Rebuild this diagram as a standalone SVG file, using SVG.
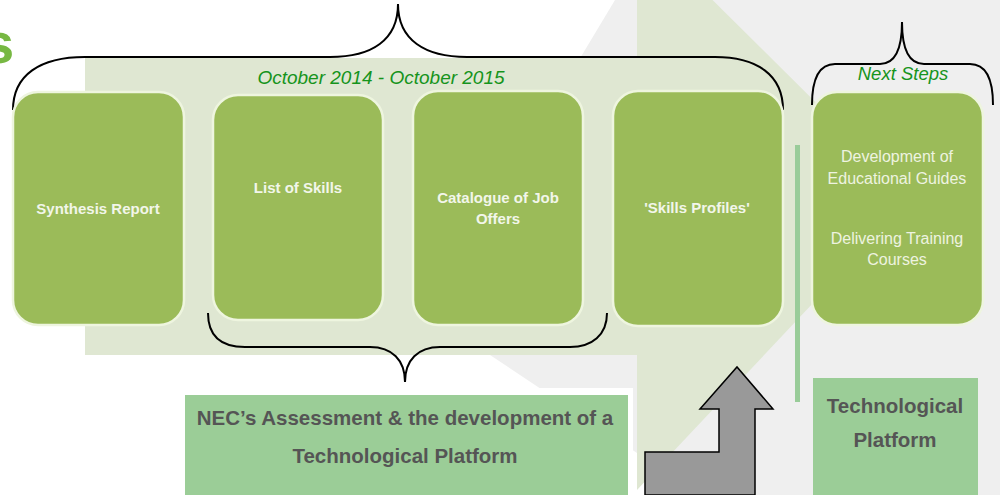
<svg xmlns="http://www.w3.org/2000/svg" width="1000" height="495" viewBox="0 0 1000 495">
  <style>
    .box { fill: #9bbb59; stroke: #eef5df; stroke-width: 2.5; }
    .boxtxt { font-family: "Liberation Sans", Arial, sans-serif; font-weight: bold; font-size: 15px; fill: #f2f6ea; text-anchor: middle; }
    .boxtxt2 { font-family: "Liberation Sans", Arial, sans-serif; font-size: 16px; fill: #eef3e0; text-anchor: middle; }
    .period { font-family: "Liberation Sans", Arial, sans-serif; font-style: italic; font-size: 19px; fill: #16941c; text-anchor: middle; }
    .plat { fill: #9bcd97; }
    .plattxt { font-family: "Liberation Sans", Arial, sans-serif; font-weight: bold; font-size: 20.5px; fill: #555555; text-anchor: middle; }
    .brace { fill: none; stroke: #000000; stroke-width: 2; }
  </style>
  <!-- background -->
  <rect x="0" y="0" width="1000" height="495" fill="#ffffff"/>
  <polygon id="bg-gray" points="615,0 1000,0 1000,495 700,495 490,355 427,313" fill="#efefef"/>
  <polygon id="bg-green" points="85,58 637,58 637,-75 912,198 637,490 637,355 85,355" fill="#dfe7d2"/>
  <text x="-18" y="63" font-family="Liberation Sans, Arial, sans-serif" font-weight="bold" font-size="58" fill="#77b843">s</text>

  <!-- connectors / braces -->
  <g id="connectors">
    <path class="brace" d="M13,110 C13,75 40,57 85,57 L330,57 C372,57 398,40 398,4 C398,40 425,57 467,57 L715,57 C757,57 783,75 783,110"/>
    <path class="brace" d="M812,105 C812,80 818,64 835,64 L880,64 C895,64 902,50 902,22 C902,50 909,64 924,64 L970,64 C986,64 993,80 993,105"/>
    <path class="brace" d="M208,313 C208,335 220,347 245,347 L370,347 C392,347 405,360 405,382 C405,360 418,347 440,347 L570,347 C592,347 607,335 607,313"/>
    <rect x="795" y="145" width="5" height="257" fill="#99cc99"/>
    <polygon points="645,495 645,452 719,452 719,409 700,409 737,367 773,409 755,409 755,495" fill="#999999" stroke="#000000" stroke-width="1.5"/>
  </g>

  <text class="period" x="381" y="84">October 2014 - October 2015</text>
  <text class="period" x="903" y="80" style="font-size:18.5px">Next Steps</text>

  <g id="node-synthesis">
    <rect class="box" x="13" y="92" width="171" height="233" rx="25"/>
    <text class="boxtxt" x="98" y="214">Synthesis Report</text>
  </g>
  <g id="node-skills">
    <rect class="box" x="213" y="95" width="170" height="225" rx="25"/>
    <text class="boxtxt" x="298" y="193">List of Skills</text>
  </g>
  <g id="node-catalogue">
    <rect class="box" x="413" y="91" width="170" height="234" rx="25"/>
    <text class="boxtxt" x="498" y="203">Catalogue of Job</text>
    <text class="boxtxt" x="498" y="224">Offers</text>
  </g>
  <g id="node-profiles">
    <rect class="box" x="613" y="91" width="170" height="235" rx="25"/>
    <text class="boxtxt" x="697" y="213">'Skills Profiles'</text>
  </g>
  <g id="node-next">
    <rect class="box" x="812" y="92" width="171" height="233" rx="25"/>
    <text class="boxtxt2" x="897" y="162">Development of</text>
    <text class="boxtxt2" x="897" y="184">Educational Guides</text>
    <text class="boxtxt2" x="897" y="244">Delivering Training</text>
    <text class="boxtxt2" x="897" y="265">Courses</text>
  </g>

  <g id="node-nec">
    <rect x="181" y="388" width="452" height="107" fill="#ffffff"/>
    <rect class="plat" x="185" y="395" width="443" height="100"/>
    <text class="plattxt" x="405" y="425">NEC’s Assessment &amp; the development of a</text>
    <text class="plattxt" x="405" y="463">Technological Platform</text>
  </g>
  <g id="node-platform">
    <rect class="plat" x="813" y="378" width="165" height="117"/>
    <text class="plattxt" x="895" y="413">Technological</text>
    <text class="plattxt" x="895" y="447">Platform</text>
  </g>
</svg>
